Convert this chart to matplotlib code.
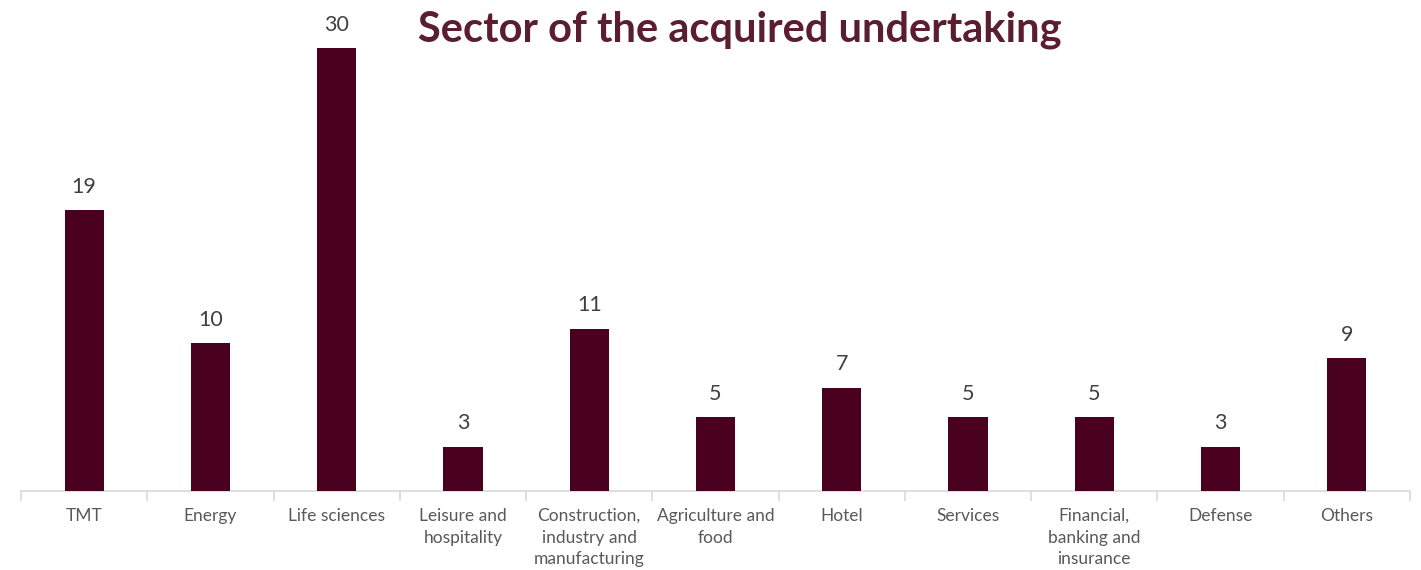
import matplotlib
matplotlib.use("Agg")
import matplotlib.pyplot as plt
import numpy as np

categories = ["TMT", "Energy", "Life sciences", "Leisure and\nhospitality",
              "Construction,\nindustry and\nmanufacturing", "Agriculture and\nfood",
              "Hotel", "Services", "Financial,\nbanking and\ninsurance", "Defense", "Others"]
values = [19, 10, 30, 3, 11, 5, 7, 5, 5, 3, 9]

plt.rcParams['font.family'] = ['Lato', 'DejaVu Sans']

fig = plt.figure(figsize=(14.21, 5.70), dpi=100)
W, H = 1421, 570
left_px, right_px, base_px = 21, 1410, 491
ymax = 32
top_px = base_px - ymax * (443 / 30)
ax = fig.add_axes([left_px / W, 1 - base_px / H, (right_px - left_px) / W, (base_px - top_px) / H])

x = np.arange(len(categories))
bar_color = "#4a001f"
ax.bar(x, values, width=0.31, color=bar_color, zorder=3)
for xi, v in zip(x, values):
    ax.text(xi, v + 0.9, str(v), ha="center", va="bottom", fontsize=15.5, color="#404040")

ax.set_xlim(-0.5, len(categories) - 0.5)
ax.set_ylim(0, ymax)
ax.set_yticks([])
for s in ["top", "right", "left"]:
    ax.spines[s].set_visible(False)
ax.spines["bottom"].set_color("#d9d9d9")
ax.spines["bottom"].set_linewidth(1.2)

ax.set_xticks(x)
ax.set_xticklabels(categories, fontsize=12.5, color="#595959", linespacing=1.45, va="top")
ax.tick_params(axis="x", which="major", length=0, pad=12)
ax.set_xticks(np.arange(-0.5, len(categories), 1.0), minor=True)
ax.tick_params(axis="x", which="minor", length=7, color="#d9d9d9", width=1.2)

fig.text(740 / W, 1 - 30 / H, "Sector of the acquired undertaking", ha="center", va="center",
         fontsize=30, fontweight="bold", color="#5a1e2e")

fig.savefig("out.png", dpi=100)
